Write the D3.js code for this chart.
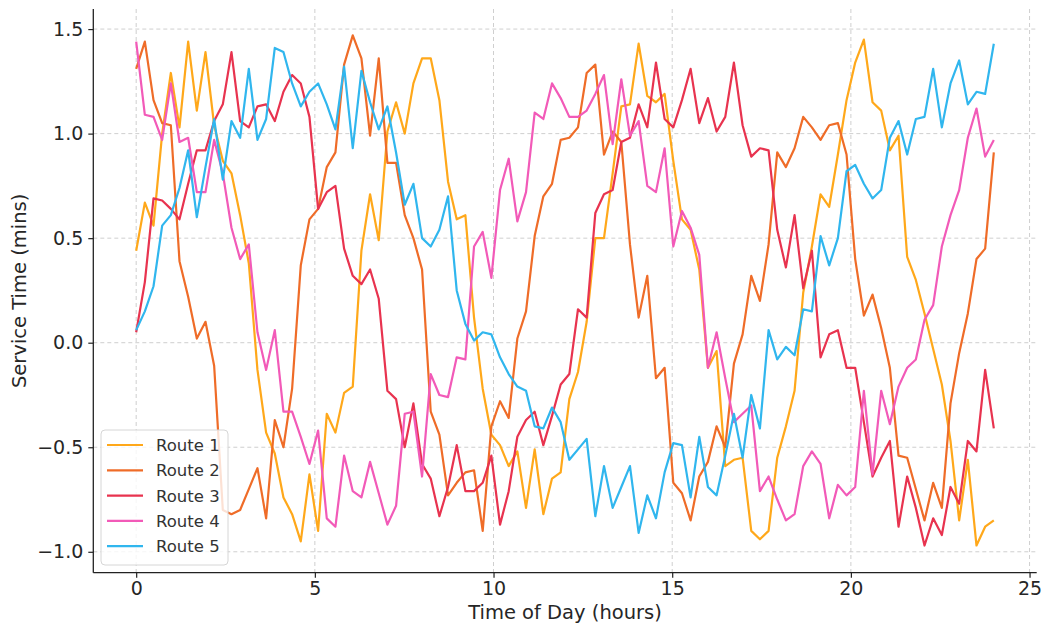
<!DOCTYPE html>
<html>
<head>
<meta charset="utf-8">
<script src="https://cdn.jsdelivr.net/npm/d3@7"></script>
<style>
  html, body { margin: 0; padding: 0; background: #fff; }
  svg { display: block; font-family: "DejaVu Sans", sans-serif; }
</style>
</head>
<body>
<svg id="chart" width="1043" height="626"></svg>
<script>
// x positions: 100 evenly spaced samples over the day
const hours = d3.range(100).map(i => i * 24 / 99);

const routeNames = ["Route 1", "Route 2", "Route 3", "Route 4", "Route 5"];
const routeColors = ["#FFA81A", "#EF6C28", "#E8334F", "#F25AB8", "#30B6EE"];

const route1 = [0.44, 0.67, 0.56, 1.00, 1.29, 1.03, 1.44, 1.11, 1.39, 1.04,
  0.87, 0.81, 0.61, 0.38, -0.13, -0.43, -0.53, -0.74, -0.82, -0.95,
  -0.63, -0.90, -0.34, -0.43, -0.24, -0.21, 0.44, 0.71, 0.49, 1.01,
  1.15, 1.00, 1.24, 1.36, 1.36, 1.16, 0.77, 0.59, 0.61, 0.12,
  -0.22, -0.44, -0.49, -0.59, -0.52, -0.79, -0.51, -0.82, -0.65, -0.62,
  -0.27, -0.14, 0.10, 0.50, 0.50, 0.81, 1.13, 1.14, 1.43, 1.18,
  1.15, 1.19, 0.87, 0.59, 0.54, 0.35, -0.12, -0.04, -0.59, -0.56,
  -0.55, -0.90, -0.94, -0.90, -0.55, -0.40, -0.23, 0.24, 0.46, 0.71,
  0.65, 0.90, 1.16, 1.34, 1.45, 1.15, 1.11, 0.92, 0.99, 0.41,
  0.30, 0.14, -0.03, -0.20, -0.47, -0.85, -0.56, -0.97, -0.88, -0.85];

const route2 = [1.31, 1.44, 1.16, 1.05, 1.04, 0.39, 0.22, 0.02, 0.10, -0.11,
  -0.80, -0.82, -0.80, -0.70, -0.60, -0.84, -0.37, -0.50, -0.22, 0.37,
  0.59, 0.64, 0.84, 0.91, 1.33, 1.47, 1.36, 0.99, 1.36, 0.86,
  0.86, 0.61, 0.50, 0.35, -0.33, -0.44, -0.73, -0.67, -0.62, -0.61,
  -0.90, -0.40, -0.28, -0.36, 0.02, 0.15, 0.51, 0.70, 0.76, 0.97,
  0.98, 1.03, 1.29, 1.33, 0.90, 1.01, 0.96, 0.47, 0.12, 0.32,
  -0.17, -0.12, -0.67, -0.72, -0.85, -0.64, -0.57, -0.40, -0.50, -0.10,
  0.04, 0.32, 0.20, 0.47, 0.91, 0.84, 0.93, 1.08, 1.03, 0.97,
  1.04, 1.05, 0.90, 0.40, 0.13, 0.23, 0.07, -0.12, -0.54, -0.55,
  -0.70, -0.85, -0.67, -0.79, -0.29, -0.05, 0.14, 0.40, 0.45, 0.91];

const route3 = [0.05, 0.29, 0.69, 0.68, 0.64, 0.59, 0.76, 0.92, 0.92, 1.06,
  1.14, 1.39, 1.06, 1.03, 1.13, 1.14, 1.06, 1.20, 1.28, 1.24,
  1.08, 0.64, 0.72, 0.75, 0.45, 0.32, 0.28, 0.35, 0.21, -0.23,
  -0.27, -0.50, -0.29, -0.58, -0.65, -0.83, -0.69, -0.49, -0.71, -0.71,
  -0.67, -0.54, -0.87, -0.71, -0.45, -0.37, -0.33, -0.49, -0.35, -0.20,
  -0.15, 0.16, 0.12, 0.62, 0.71, 0.73, 0.96, 0.98, 1.14, 1.03,
  1.34, 1.07, 1.03, 1.16, 1.31, 1.05, 1.17, 1.01, 1.08, 1.34,
  1.04, 0.89, 0.93, 0.92, 0.54, 0.36, 0.61, 0.26, 0.44, -0.07,
  0.04, 0.06, -0.12, -0.12, -0.38, -0.64, -0.55, -0.47, -0.88, -0.64,
  -0.79, -0.97, -0.84, -0.92, -0.69, -0.77, -0.47, -0.52, -0.13, -0.41];

const route4 = [1.44, 1.09, 1.08, 0.97, 1.24, 0.96, 0.98, 0.72, 0.72, 0.97,
  0.81, 0.55, 0.40, 0.47, 0.05, -0.13, 0.06, -0.33, -0.33, -0.45,
  -0.58, -0.42, -0.84, -0.88, -0.54, -0.71, -0.74, -0.57, -0.72, -0.87,
  -0.78, -0.34, -0.33, -0.64, -0.15, -0.25, -0.26, -0.07, -0.08, 0.46,
  0.53, 0.31, 0.73, 0.88, 0.58, 0.72, 1.10, 1.07, 1.24, 1.17,
  1.08, 1.08, 1.11, 1.19, 1.28, 0.95, 1.26, 0.99, 1.06, 0.75,
  0.72, 0.93, 0.46, 0.63, 0.55, 0.42, -0.12, 0.05, -0.17, -0.38,
  -0.34, -0.30, -0.71, -0.64, -0.75, -0.85, -0.82, -0.59, -0.52, -0.58,
  -0.84, -0.68, -0.73, -0.69, -0.23, -0.63, -0.23, -0.39, -0.21, -0.12,
  -0.08, 0.11, 0.18, 0.46, 0.61, 0.73, 0.98, 1.12, 0.89, 0.97];

const route5 = [0.06, 0.15, 0.27, 0.56, 0.61, 0.74, 0.92, 0.60, 0.84, 1.07,
  0.78, 1.06, 0.98, 1.31, 0.97, 1.07, 1.41, 1.39, 1.24, 1.13,
  1.20, 1.24, 1.14, 1.02, 1.32, 0.93, 1.30, 1.15, 1.02, 1.13,
  0.91, 0.66, 0.76, 0.50, 0.46, 0.54, 0.70, 0.25, 0.09, 0.01,
  0.05, 0.04, -0.07, -0.15, -0.21, -0.23, -0.40, -0.41, -0.31, -0.38,
  -0.56, -0.51, -0.46, -0.83, -0.59, -0.79, -0.69, -0.59, -0.91, -0.73,
  -0.84, -0.62, -0.48, -0.49, -0.74, -0.45, -0.69, -0.73, -0.54, -0.34,
  -0.55, -0.25, -0.41, 0.06, -0.08, -0.02, -0.06, 0.16, 0.15, 0.51,
  0.37, 0.50, 0.82, 0.85, 0.76, 0.69, 0.73, 0.98, 1.06, 0.90,
  1.07, 1.08, 1.31, 1.03, 1.24, 1.35, 1.14, 1.20, 1.19, 1.43];

const xTicks = [0, 5, 10, 15, 20, 25];
const yTicks = [-1.0, -0.5, 0.0, 0.5, 1.0, 1.5];

const routes = [route1, route2, route3, route4, route5];

const svg = d3.select("#chart");
const plot = {left: 93.3, right: 1036.7, top: 9, bottom: 572.7};

const x = d3.scaleLinear().domain([-1.2, 25.2]).range([plot.left, plot.right]);
const y = d3.scaleLinear().domain([-1.1, 1.596]).range([plot.bottom, plot.top]);

// grid
svg.append("g")
    .selectAll("line")
    .data(xTicks)
    .enter().append("line")
    .attr("x1", d => x(d)).attr("x2", d => x(d))
    .attr("y1", plot.top).attr("y2", plot.bottom)
    .attr("stroke", "#cfcfcf").attr("stroke-width", 1)
    .attr("stroke-dasharray", "4,3");

svg.append("g")
    .selectAll("line")
    .data(yTicks)
    .enter().append("line")
    .attr("x1", plot.left).attr("x2", plot.right)
    .attr("y1", d => y(d)).attr("y2", d => y(d))
    .attr("stroke", "#cfcfcf").attr("stroke-width", 1)
    .attr("stroke-dasharray", "4,3");

// lines
const line = d3.line()
    .x((d, i) => x(hours[i]))
    .y(d => y(d));

routes.forEach((r, k) => {
    svg.append("path")
        .datum(r)
        .attr("fill", "none")
        .attr("stroke", routeColors[k])
        .attr("stroke-width", 2.2)
        .attr("stroke-linejoin", "round")
        .attr("d", line);
});

// axes
const fmt = d => d3.format(".1f")(d).replace("-", "\u2212");

const xAxis = svg.append("g")
    .attr("transform", `translate(0,${plot.bottom})`)
    .call(d3.axisBottom(x).tickValues(xTicks).tickSize(5).tickPadding(4).tickFormat(d3.format("d")));

const yAxis = svg.append("g")
    .attr("transform", `translate(${plot.left},0)`)
    .call(d3.axisLeft(y).tickValues(yTicks).tickSize(5).tickPadding(5).tickFormat(fmt));

xAxis.select(".domain").attr("d", `M${plot.left},0H${plot.right}`);
yAxis.select(".domain").attr("d", `M0,${plot.top}V${plot.bottom}`);

[xAxis, yAxis].forEach(a => {
    a.select(".domain").attr("stroke", "#222").attr("stroke-width", 1.3);
    a.selectAll(".tick line").attr("stroke", "#222").attr("stroke-width", 1.2);
    a.selectAll(".tick text")
        .attr("fill", "#262626")
        .style("font-size", "19px")
        .style("font-family", "DejaVu Sans, sans-serif");
});

svg.append("text")
    .attr("x", (plot.left + plot.right) / 2)
    .attr("y", 619)
    .attr("text-anchor", "middle")
    .attr("fill", "#262626")
    .style("font-size", "19.5px")
    .text("Time of Day (hours)");

svg.append("text")
    .attr("transform", `translate(26,${(plot.top + plot.bottom) / 2}) rotate(-90)`)
    .attr("text-anchor", "middle")
    .attr("fill", "#262626")
    .style("font-size", "19.5px")
    .text("Service Time (mins)");

// legend
const legend = svg.append("g").attr("transform", "translate(101,430)");
legend.append("rect")
    .attr("width", 127).attr("height", 135)
    .attr("rx", 4)
    .attr("fill", "#fff").attr("fill-opacity", 0.8)
    .attr("stroke", "#d6d6d6").attr("stroke-width", 1);

routeNames.forEach((name, k) => {
    const g = legend.append("g").attr("transform", `translate(0,${15 + k * 25.3})`);
    g.append("line")
        .attr("x1", 6).attr("x2", 42)
        .attr("stroke", routeColors[k]).attr("stroke-width", 2.2);
    g.append("text")
        .attr("x", 55).attr("y", 6)
        .attr("fill", "#333")
        .style("font-size", "16.5px")
        .text(name);
});
</script>
</body>
</html>
